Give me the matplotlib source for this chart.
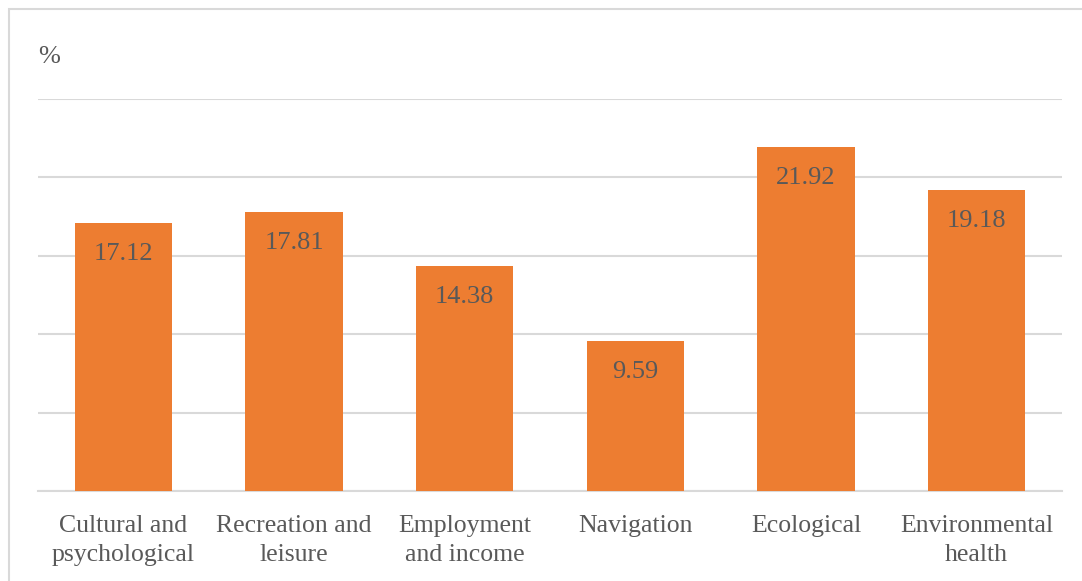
import matplotlib.pyplot as plt
from matplotlib.patches import Rectangle

categories = ['Cultural and\npsychological', 'Recreation and\nleisure', 'Employment\nand income',
              'Navigation', 'Ecological', 'Environmental\nhealth']
values = [17.12, 17.81, 14.38, 9.59, 21.92, 19.18]

W, H = 1082, 581
plt.rcParams['font.family'] = ['Liberation Serif', 'DejaVu Serif']
text_color = '#595959'
grid_color = '#D9D9D9'
bar_color = '#ED7D31'

fig = plt.figure(figsize=(W / 100, H / 100), dpi=100)
ax = fig.add_axes([38 / W, (H - 491) / H, (1062 - 38) / W, (491 - 99) / H])

x = list(range(len(categories)))
ax.bar(x, values, width=0.57, color=bar_color, zorder=3)

for xi, v in zip(x, values):
    ax.annotate(f'{v:.2f}', (xi, v), xytext=(0, -31), textcoords='offset pixels',
                ha='center', va='center', fontsize=19, color=text_color, zorder=4)

ax.set_xlim(-0.5, len(categories) - 0.5)
ax.set_ylim(0, 25)
ax.set_yticks([0, 5, 10, 15, 20, 25])
ax.yaxis.grid(True, color=grid_color, linewidth=1.5, zorder=0)
ax.set_yticklabels([])
ax.tick_params(axis='y', length=0)
ax.tick_params(axis='x', length=0, pad=17)
ax.set_xticks(x)
ax.set_xticklabels(categories, fontsize=18.5, color=text_color, linespacing=1.45)
for side in ['top', 'right', 'left']:
    ax.spines[side].set_visible(False)
ax.spines['bottom'].set_color(grid_color)
ax.spines['bottom'].set_linewidth(1.5)

fig.text(38 / W, 1 - 57 / H, '%', fontsize=19, color=text_color, va='center', ha='left')

# light frame around the chart area
fig.patches.append(Rectangle((9 / W, -0.1), 1.2, 1 - 9 / H + 0.1, transform=fig.transFigure,
                             fill=False, edgecolor=grid_color, linewidth=1.5))

fig.savefig('out.png', dpi=100)
